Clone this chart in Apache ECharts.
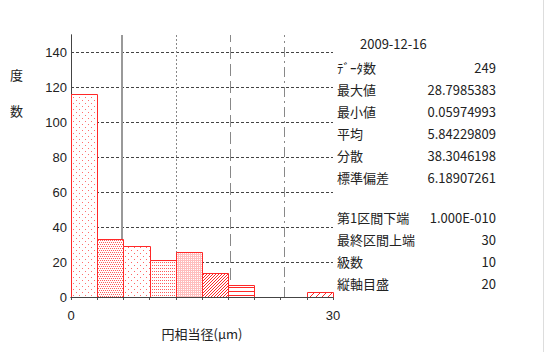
<!DOCTYPE html>
<html>
<head>
<meta charset="utf-8">
<script src="https://cdn.jsdelivr.net/npm/echarts@6/dist/echarts.min.js"></script>
<style>
  html, body { margin: 0; padding: 0; background: #fff; }
  #chart { width: 546px; height: 352px; }
</style>
</head>
<body>
<div id="chart"></div>
<script>
// データ
const binEdges = [0, 3, 6, 9, 12, 15, 18, 21, 24, 27, 30];
const counts = [116, 33, 29, 21, 26, 14, 7, 0, 0, 3];
const yTicks = [0, 20, 40, 60, 80, 100, 120, 140];
const xLabels = ['0', '30'];
const dateText = '2009-12-16';
const statNames = ['ﾃﾞｰﾀ数', '最大値', '最小値', '平均', '分散', '標準偏差'];
const statValues = ['249', '28.7985383', '0.05974993', '5.84229809', '38.3046198', '6.18907261'];
const condNames = ['第1区間下端', '最終区間上端', '級数', '縦軸目盛'];
const condValues = ['1.000E-010', '30', '10', '20'];
const meanVal = 5.84229809;
const sdVal = 6.18907261;
const patternKinds = ['dots', 'dense', 'sparse', 'rows', 'grid', 'diag', 'horiz', 'none', 'none', 'diag2'];

// 塗りパターン
function makePattern(kind) {
  const c = document.createElement('canvas');
  c.width = 12; c.height = 12;
  const ctx = c.getContext('2d');
  ctx.fillStyle = 'rgb(255,255,255)';
  ctx.fillRect(0, 0, 12, 12);
  const dot = (x, y, col) => { ctx.fillStyle = col; ctx.fillRect(x, y, 1, 1); };
  for (let y = 0; y < 12; y++) {
    for (let x = 0; x < 12; x++) {
      if (kind === 'dots' && ((x % 6 === 1 && y % 6 === 1) || (x % 6 === 4 && y % 6 === 4))) dot(x, y, 'rgb(255,110,110)');
      if (kind === 'dense' && y % 2 === 0 && (x + y / 2) % 2 === 0) dot(x, y, 'rgb(255,90,90)');
      if (kind === 'sparse' && ((x % 6 === 2 && y % 6 === 1) || (x % 6 === 5 && y % 6 === 4))) dot(x, y, 'rgb(255,100,100)');
      if (kind === 'rows' && y % 3 === 1 && x % 2 === 0) dot(x, y, 'rgb(255,90,90)');
      if (kind === 'grid' && (x % 2 === 0 || y % 2 === 0)) dot(x, y, 'rgb(255,190,190)');
      if (kind === 'diag' && (x + y) % 3 === 0) dot(x, y, 'rgb(255,40,40)');
      if (kind === 'horiz' && y % 4 === 3) dot(x, y, 'rgb(255,40,40)');
      if (kind === 'diag2' && (x + y) % 6 === 0) dot(x, y, 'rgb(255,40,40)');
    }
  }
  return c;
}
const patternCache = {};
function getPattern(kind) {
  if (!patternCache[kind]) patternCache[kind] = makePattern(kind);
  return { image: patternCache[kind], repeat: 'repeat', imageWidth: 12, imageHeight: 12 };
}

const histData = counts.map((v, i) => [binEdges[i], binEdges[i + 1], v, i]);

const myChart = echarts.init(document.getElementById('chart'), null, { renderer: 'svg' });

const textFont = '"Noto Sans CJK JP", sans-serif';
const graphics = [];
graphics.push({ type: 'text', left: 360, top: 37, style: { text: dateText, font: '13px ' + textFont, fill: '#222' } });
statNames.forEach((name, i) => {
  const y = 61 + i * 22;
  graphics.push({ type: 'text', left: 337, top: y, style: { text: name, font: '13px ' + textFont, fill: '#222' } });
  graphics.push({ type: 'text', right: 546 - 496, top: y, style: { text: statValues[i], font: '13px ' + textFont, fill: '#222', align: 'right' } });
});
condNames.forEach((name, i) => {
  const y = 211 + i * 22;
  graphics.push({ type: 'text', left: 337, top: y, style: { text: name, font: '13px ' + textFont, fill: '#222' } });
  graphics.push({ type: 'text', right: 546 - 496, top: y, style: { text: condValues[i], font: '13px ' + textFont, fill: '#222', align: 'right' } });
});
graphics.push({ type: 'text', left: 10, top: 68, style: { text: '度', font: '13px ' + textFont, fill: '#222' } });
graphics.push({ type: 'text', left: 10, top: 104, style: { text: '数', font: '13px ' + textFont, fill: '#222' } });
graphics.push({ type: 'line', shape: { x1: 543.5, y1: 0, x2: 543.5, y2: 352 }, style: { stroke: '#ddd', lineWidth: 1 } });

const option = {
  animation: false,
  backgroundColor: '#fff',
  grid: { left: 71, right: 213, top: 35, bottom: 55 },
  xAxis: [{
    type: 'value', min: 0, max: 30, interval: 3,
    name: '円相当径(μm)', nameLocation: 'middle', nameGap: 30,
    nameTextStyle: { fontFamily: textFont, fontSize: 13, color: '#222' },
    axisLine: { show: true, lineStyle: { color: '#555' } },
    axisTick: { show: true, length: 3, lineStyle: { color: '#555' } },
    axisLabel: {
      fontFamily: 'Liberation Sans', fontSize: 13, color: '#222', margin: 12,
      formatter: v => (v === 0 ? xLabels[0] : v === 30 ? xLabels[1] : '')
    },
    splitLine: { show: false }
  }, {
    type: 'value', min: 0, max: 30, position: 'top', z: 10,
    axisLine: { show: true, lineStyle: { color: '#444' } },
    axisTick: { show: false }, axisLabel: { show: false }, splitLine: { show: false }
  }],
  yAxis: [{
    type: 'value', min: 0, max: 150, interval: 10,
    axisLine: { show: true, lineStyle: { color: '#444' } },
    axisTick: { show: false, customValues: yTicks },
    axisLabel: { fontFamily: 'Liberation Sans', fontSize: 13, color: '#222', margin: 4, customValues: yTicks, hideOverlap: false },
    splitLine: { show: true, lineStyle: { color: '#444', type: [3, 2] } }
  }, {
    type: 'value', min: 0, max: 150, interval: 10, position: 'right',
    axisLine: { show: true, lineStyle: { color: '#444' } },
    axisTick: { show: true, length: 3, customValues: yTicks, lineStyle: { color: '#444' } },
    axisLabel: { show: false },
    splitLine: { show: false }
  }],
  series: [{
    type: 'custom',
    z: 3,
    data: histData,
    encode: { x: [0, 1], y: 2 },
    renderItem: (params, api) => {
      const x0 = api.coord([api.value(0), 0]);
      const x1 = api.coord([api.value(1), api.value(2)]);
      const kind = patternKinds[api.value(3)];
      if (api.value(2) <= 0 || kind === 'none') return null;
      return {
        type: 'rect',
        z2: 10,
        shape: { x: Math.round(x0[0]) + 0.5, y: Math.round(x1[1]) + 0.5, width: Math.round(x1[0]) - Math.round(x0[0]), height: Math.round(x0[1]) - Math.round(x1[1]) },
        style: { fill: getPattern(kind), stroke: 'rgb(255,40,40)', lineWidth: 1 }
      };
    },
    markLine: {
      silent: true, symbol: 'none', label: { show: false }, z: 2,
      data: [
        { xAxis: meanVal, lineStyle: { color: '#999', type: 'solid', width: 2 } },
        { xAxis: meanVal + sdVal, lineStyle: { color: '#888', type: [2, 2], width: 1 } },
        { xAxis: meanVal + 2 * sdVal, lineStyle: { color: '#888', type: [12, 5], width: 1 } },
        { xAxis: meanVal + 3 * sdVal, lineStyle: { color: '#888', type: [10, 4, 2, 4], width: 1 } }
      ]
    }
  }],
  graphic: graphics
};

myChart.setOption(option);
</script>
</body>
</html>
